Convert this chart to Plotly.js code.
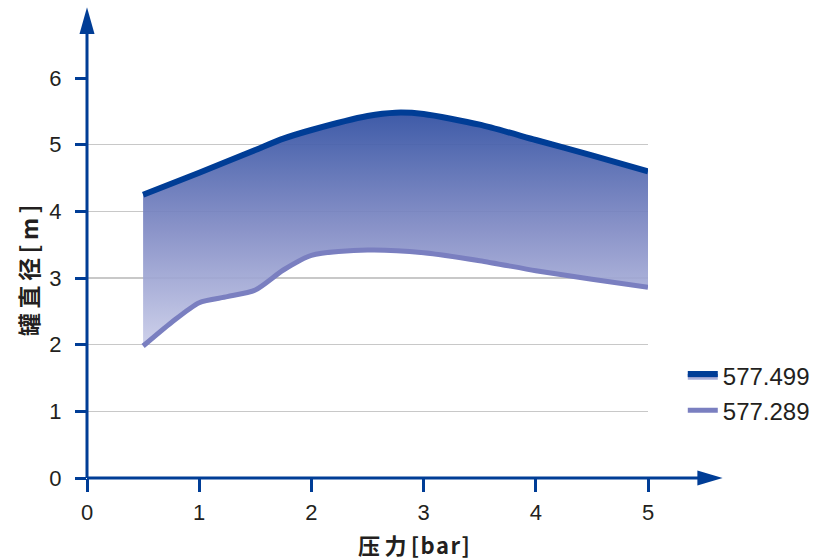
<!DOCTYPE html>
<html>
<head>
<meta charset="utf-8">
<script src="https://cdn.plot.ly/plotly-3.0.1.min.js"></script>
<style>html,body{margin:0;padding:0;background:#fff;}#chart{width:828px;height:560px;}</style>
</head>
<body>
<div id="chart"></div>
<script>
// ---- data ----
const upperName = "577.499";
const upperX = [0.5, 1.0, 1.5, 1.75, 2.0, 2.5, 2.75, 3.0, 3.5, 4.0, 4.5, 5.0];
const upperY = [4.25, 4.58, 4.92, 5.09, 5.22, 5.43, 5.48, 5.46, 5.30, 5.07, 4.84, 4.60];

const lowerName = "577.289";
const lowerX = [0.5, 0.75, 1.0, 1.25, 1.5, 1.75, 2.0, 2.5, 3.0, 3.5, 4.0, 4.5, 5.0];
const lowerY = [1.98, 2.33, 2.63, 2.72, 2.82, 3.12, 3.34, 3.42, 3.38, 3.26, 3.11, 2.98, 2.86];

const xTicks = [0, 1, 2, 3, 4, 5];
const yTicks = [0, 1, 2, 3, 4, 5, 6];
const xTitle = "压\u2009力\u2009[\u200Ab\u200Aa\u200Ar\u200A]";
const yTitle = "罐\u2009直\u2009径\u2009[\u2009m\u2009]";

// ---- styles ----
const axisBlue = "rgb(0,61,150)";
const lowerColor = "rgb(122,127,192)";
const textColor = "rgb(35,31,32)";

const traces = [
  {
    x: lowerX, y: lowerY, name: lowerName, type: "scatter", mode: "lines",
    line: {color: lowerColor, width: 5, shape: "spline", smoothing: 0.7},
    legendrank: 2, hoverinfo: "skip"
  },
  {
    x: upperX, y: upperY, name: upperName, type: "scatter", mode: "lines",
    line: {color: axisBlue, width: 6, shape: "spline", smoothing: 0.7},
    fill: "tonexty",
    fillgradient: {
      type: "vertical",
      colorscale: [[0, "rgba(202,205,233,0.92)"], [0.5, "rgba(128,138,196,0.92)"], [1, "rgba(52,82,163,0.95)"]]
    },
    legendrank: 1, hoverinfo: "skip"
  }
];

const px = 561, py = 400;
const layout = {
  width: 828, height: 560,
  margin: {l: 87, r: 180, t: 78, b: 82},
  paper_bgcolor: "#fff", plot_bgcolor: "#fff",
  font: {family: "Liberation Sans, Arial, sans-serif", color: textColor, size: 22},
  showlegend: true,
  legend: {
    x: 1.062, y: 0.31, xanchor: "left", yanchor: "top",
    font: {size: 24, color: textColor}, bgcolor: "rgba(0,0,0,0)",
    traceorder: "normal", tracegroupgap: 0
  },
  xaxis: {
    range: [0, 5], tickvals: xTicks, ticktext: xTicks.map(String),
    showgrid: false, zeroline: false, showline: false,
    ticks: "outside", ticklen: 13, tickwidth: 3, tickcolor: axisBlue,
    ticklabelstandoff: 2, tickfont: {size: 22, color: textColor},
    fixedrange: true
  },
  yaxis: {
    range: [0, 6], tickvals: yTicks, ticktext: yTicks.map(String),
    showgrid: true, gridcolor: "rgb(200,200,200)", gridwidth: 1.5,
    zeroline: false, showline: false,
    ticks: "outside", ticklen: 11, tickwidth: 3, tickcolor: axisBlue,
    ticklabelstandoff: 9, tickfont: {size: 22, color: textColor},
    fixedrange: true
  },
  shapes: [
    // y axis line + arrow
    {type: "line", xref: "paper", yref: "paper", x0: 0, x1: 0, y0: 0, y1: 1.12,
     line: {color: axisBlue, width: 3}},
    {type: "path", xref: "paper", yref: "paper",
     path: `M 0 1.177 L ${-7.5/px} 1.11 L ${7.5/px} 1.11 Z`,
     fillcolor: axisBlue, line: {color: axisBlue, width: 0}},
    // x axis line + arrow
    {type: "line", xref: "paper", yref: "paper", x0: 0, x1: 1.10, y0: 0, y1: 0,
     line: {color: axisBlue, width: 3}},
    {type: "path", xref: "paper", yref: "paper",
     path: `M 1.133 0 L 1.088 ${7.5/py} L 1.088 ${-7.5/py} Z`,
     fillcolor: axisBlue, line: {color: axisBlue, width: 0}}
  ],
  annotations: [
    {text: yTitle, xref: "paper", yref: "paper", x: (28 - 87) / px, y: (478 - 270) / py,
     textangle: -90, showarrow: false, xanchor: "center", yanchor: "middle",
     font: {family: "Noto Sans CJK SC, sans-serif", size: 23, weight: 700, color: textColor}},
    {text: xTitle, xref: "paper", yref: "paper", x: (414 - 87) / px, y: (478 - 544) / py,
     showarrow: false, xanchor: "center", yanchor: "middle",
     font: {family: "Noto Sans CJK SC, sans-serif", size: 22, weight: 700, color: textColor}}
  ]
};

Plotly.newPlot("chart", traces, layout, {displayModeBar: false, staticPlot: true});
</script>
</body>
</html>
